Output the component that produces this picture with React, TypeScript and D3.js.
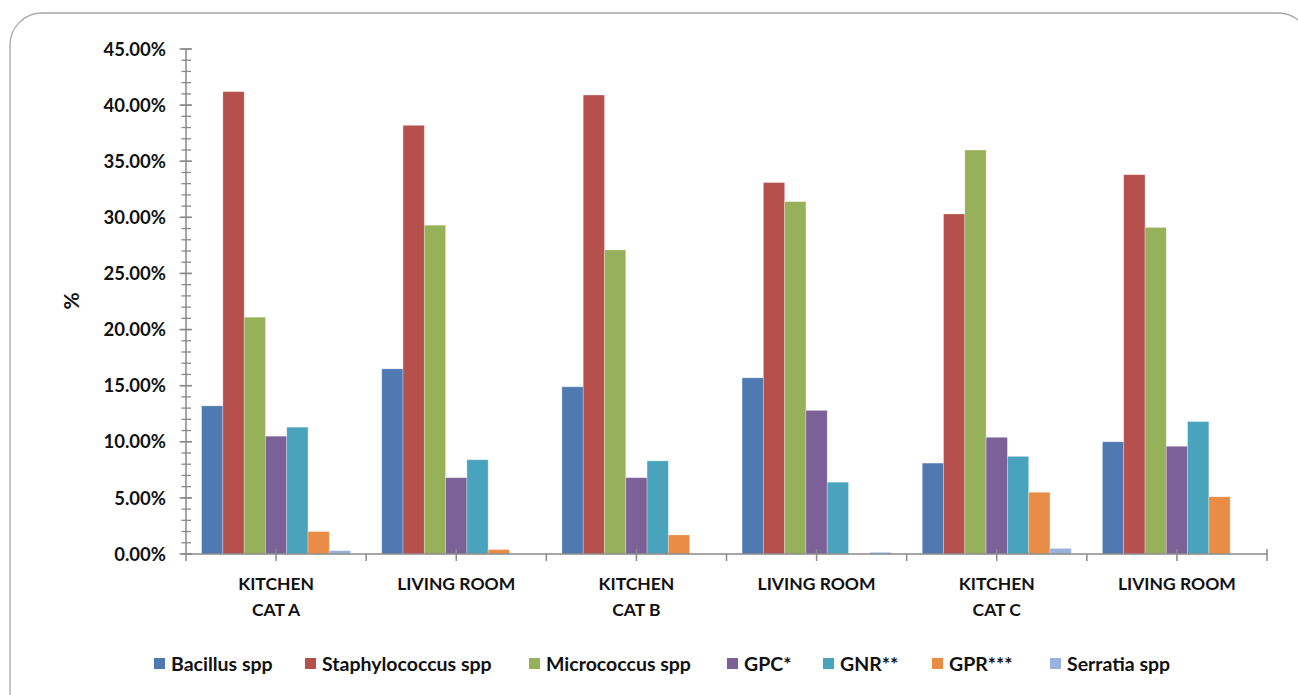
import React from "react";
import * as d3 from "d3";

const categoryLabels: string[][] = [
  ["KITCHEN", "CAT A"],
  ["LIVING ROOM"],
  ["KITCHEN", "CAT B"],
  ["LIVING ROOM"],
  ["KITCHEN", "CAT C"],
  ["LIVING ROOM"],
];

const seriesNames = [
  "Bacillus spp",
  "Staphylococcus spp",
  "Micrococcus spp",
  "GPC*",
  "GNR**",
  "GPR***",
  "Serratia spp",
];

const bacillus = [13.2, 16.5, 14.9, 15.7, 8.1, 10.0];
const staphylococcus = [41.2, 38.2, 40.9, 33.1, 30.3, 33.8];
const micrococcus = [21.1, 29.3, 27.1, 31.4, 36.0, 29.1];
const gpc = [10.5, 6.8, 6.8, 12.8, 10.4, 9.6];
const gnr = [11.3, 8.4, 8.3, 6.4, 8.7, 11.8];
const gpr = [2.0, 0.4, 1.7, 0, 5.5, 5.1];
const serratia = [0.3, 0, 0, 0.15, 0.5, 0];

const yTicks = [0, 5, 10, 15, 20, 25, 30, 35, 40, 45];

const seriesValues = [bacillus, staphylococcus, micrococcus, gpc, gnr, gpr, serratia];
const colors = ["#4E7AB1", "#B6504D", "#97B15A", "#7C6199", "#4AA3BC", "#E88C46", "#97B2DD"];

const W = 1298;
const H = 695;
const FONT = "Lato, 'Open Sans', sans-serif";

export default function App() {
  const x0 = d3
    .scaleBand<number>()
    .domain(d3.range(categoryLabels.length))
    .range([186, 1267])
    .paddingInner(0.173)
    .paddingOuter(0.0865);
  const x1 = d3
    .scaleBand<number>()
    .domain(d3.range(seriesNames.length))
    .range([0, x0.bandwidth()]);
  const y = d3.scaleLinear().domain([0, 45]).range([554, 49]);
  const minor = d3.range(0, 46, 1);
  const step = x0.step();
  const xLeft = 186;
  const halfTicks = d3.range(0, categoryLabels.length * 2 + 1).map((i) => ({
    x: xLeft + (i * step) / 2,
    center: i % 2 === 1 || i === categoryLabels.length * 2,
  }));

  const legendX = [154, 305, 529, 727, 823, 932, 1050];

  return (
    <svg
      width={W}
      height={H}
      style={{ position: "absolute", left: 0, top: 0, background: "#fff" }}
      fontFamily={FONT}
    >
      <rect x={10} y={13} width={1300} height={720} rx={32} ry={32} fill="#fff" stroke="#a6a6a6" strokeWidth={1.3} />

      {/* bars */}
      {seriesValues.map((vals, si) =>
        vals.map((v, ci) => (
          <rect
            key={`${si}-${ci}`}
            x={(x0(ci) as number) + (x1(si) as number)}
            y={y(v)}
            width={x1.bandwidth()}
            height={y(0) - y(v)}
            fill={colors[si]}
            stroke="rgba(255,255,255,0.35)"
            strokeWidth={0.8}
          />
        ))
      )}

      {/* y axis */}
      <line x1={186} x2={186} y1={y(45)} y2={y(0)} stroke="#898989" strokeWidth={1.5} />
      {minor.map((m) => (
        <line key={`m${m}`} x1={181.5} x2={191} y1={y(m)} y2={y(m)} stroke="#898989" strokeWidth={1.3} />
      ))}
      {yTicks.map((t) => (
        <g key={`t${t}`}>
          <line x1={179.5} x2={192} y1={y(t)} y2={y(t)} stroke="#898989" strokeWidth={1.5} />
          <text
            x={166}
            y={y(t)}
            dy="0.36em"
            textAnchor="end"
            fontSize={18.5}
            fontWeight={700}
            fill="#111"
          >
            {t.toFixed(2) + "%"}
          </text>
        </g>
      ))}
      <text
        transform={`translate(79,${301}) rotate(-90)`}
        textAnchor="middle"
        fontSize={21}
        fontWeight={700}
        fill="#111"
      >
        %
      </text>

      {/* x axis */}
      <line x1={186} x2={1267} y1={y(0)} y2={y(0)} stroke="#898989" strokeWidth={1.5} />
      {halfTicks.map((t, i) => (
        <line
          key={`x${i}`}
          x1={t.x}
          x2={t.x}
          y1={t.center ? y(0) - 5 : y(0)}
          y2={y(0) + 7}
          stroke="#898989"
          strokeWidth={1.5}
        />
      ))}
      {categoryLabels.map((lines, ci) => (
        <text
          key={`c${ci}`}
          x={(x0(ci) as number) + x0.bandwidth() / 2}
          y={590}
          textAnchor="middle"
          fontSize={17.5}
          fontWeight={700}
          fill="#111"
        >
          {lines.map((l, li) => (
            <tspan key={li} x={(x0(ci) as number) + x0.bandwidth() / 2} dy={li === 0 ? 0 : 26}>
              {l}
            </tspan>
          ))}
        </text>
      ))}

      {/* legend */}
      {seriesNames.map((name, si) => (
        <g key={`l${si}`} transform={`translate(${legendX[si]},658)`}>
          <rect x={0} y={0} width={11} height={11} fill={colors[si]} />
          <text x={17} y={5.5} dy="0.36em" fontSize={19.5} fontWeight={700} fill="#111">
            {name}
          </text>
        </g>
      ))}
    </svg>
  );
}
